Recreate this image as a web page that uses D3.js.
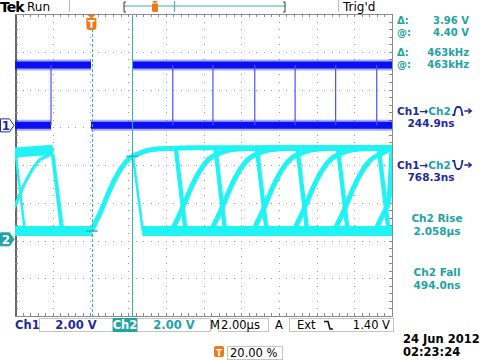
<!DOCTYPE html>
<html>
<head>
<meta charset="utf-8">
<script src="https://cdn.jsdelivr.net/npm/d3@7"></script>
<style>
  body { margin: 0; background: #fff; }
  svg { display: block; }
  text { font-family: "DejaVu Sans", sans-serif; }
</style>
</head>
<body>
<svg id="scope" width="480" height="360"></svg>
<script>
// timebase in µs (2 µs/div, trigger at 20 %), volts at 2 V/div
const timeDomain = [-4, 16];
const ch1Position = 1.05;   // div above centre
const ch2Position = -1.97;
const voltsPerDiv = 2;

// Ch1 levels and persistence spans
const ch1High = 3.2;
const ch1Low = 0;
const ch1HighSpans = [[-4, 0.03], [2.26, 16]];
const ch1LowSpans = [[-4, -2.09], [0.03, 16]];
const ch1Edges = [-2.09, 4.37, 6.5, 8.72, 10.86, 13.01, 15.19];

// Ch2 levels
const ch2High = 4.85;
const ch2Low = 0.44;
const ch2LowSpans = [[-4, 0.1], [2.75, 16]];
const ch2OldHigh = [[-4, 4.6], [-2.0, 4.75]];

// Ch2 rise shape at the first cursor
const riseT = [0, 0.2, 0.42, 0.7, 0.96, 1.4, 1.91, 2.5, 3.1, 4.2, 5.3];
const riseV = [0.44, 0.9, 1.35, 2.0, 2.62, 3.5, 4.21, 4.55, 4.74, 4.82, 4.85];
const riseStarts = [-4.6, 0.07, 4.33, 6.42, 8.65, 10.8, 12.95, 15.12];
const riseEnds = [-1.98, 16, 16, 16, 16, 16, 16, 16];

// Ch2 falling edges
const fallStarts = [-4.0, -2.06, -1.97, 2.26, 4.48, 4.58, 6.58, 6.68, 8.78, 8.88, 10.93, 11.03, 13.08, 13.18, 15.25, 15.35];
const fallTops = [4.85, 4.75, 4.5, 4.4, 4.85, 4.8, 4.85, 4.8, 4.85, 4.8, 4.85, 4.8, 4.85, 4.8, 4.85, 4.8];
const fallTime = 0.52;

// cursors
const cursorTimes = [0.07, 2.23];
const cursorVolts = [0.44, 4.40];

const readouts = [
  ["Δ:", "3.96 V"], ["@:", "4.40 V"], ["Δ:", "463kHz"], ["@:", "463kHz"]
];

const svg = d3.select("#scope");
const C1 = "#0a10f0", C1T = "#1f2a9c", C2 = "#1ff3f3", C2T = "#22a3a3", CUR = "#3ab0b0", ORG = "#f07818";
const FS = 10;

const gLeft = 15, gRight = 392, gTop = 14, gBottom = 316;
const x = d3.scaleLinear().domain(timeDomain).range([gLeft, gRight]);
const xDiv = d3.scaleLinear().domain([0, 10]).range([gLeft, gRight]);
const yDiv = d3.scaleLinear().domain([-4, 4]).range([gBottom, gTop]);
const y1 = v => yDiv(ch1Position + v / voltsPerDiv);
const y2 = v => yDiv(ch2Position + v / voltsPerDiv);

svg.append("clipPath").attr("id", "clip")
  .append("rect").attr("x", gLeft).attr("y", gTop).attr("width", gRight - gLeft).attr("height", gBottom - gTop);

// graticule dots
const grid = svg.append("g").attr("fill", "#9a9a9a");
const steps = d3.range(0, 50.5, 1).map(d => d / 5);
const vsteps = d3.range(0, 40.5, 1).map(d => d / 5);
for (let i = 1; i < 10; i++) {
  grid.selectAll(null).data(vsteps).enter().append("rect")
    .attr("x", Math.round(xDiv(i))).attr("y", d => Math.round(yDiv(d - 4)))
    .attr("width", 1).attr("height", 1);
}
for (let j = 1; j < 8; j++) {
  grid.selectAll(null).data(steps).enter().append("rect")
    .attr("x", d => Math.round(xDiv(d))).attr("y", Math.round(yDiv(j - 4)))
    .attr("width", 1).attr("height", 1);
}

// border with inward ticks
const tickV = d3.range(0, 50.5, 1).map(d => d / 5);
const tickH = d3.range(0, 40.5, 1).map(d => d / 5 - 4);
const axes = svg.append("g").attr("class", "frame");
axes.append("g").attr("transform", `translate(0,${gTop})`)
  .call(d3.axisTop(xDiv).tickValues(tickV).tickSize(-3).tickSizeOuter(0).tickFormat(""));
axes.append("g").attr("transform", `translate(0,${gBottom})`)
  .call(d3.axisBottom(xDiv).tickValues(tickV).tickSize(-3).tickSizeOuter(0).tickFormat(""));
const leftAxis = axes.append("g").attr("transform", `translate(${gLeft},0)`)
  .call(d3.axisLeft(yDiv).tickValues(tickH).tickSize(-3).tickSizeOuter(0).tickFormat(""));
axes.append("g").attr("transform", `translate(${gRight},0)`)
  .call(d3.axisRight(yDiv).tickValues(tickH).tickSize(-3).tickSizeOuter(0).tickFormat(""));
axes.selectAll("path, line").attr("stroke", "#8a8a8a").attr("stroke-width", 1).attr("shape-rendering", "crispEdges");
leftAxis.select(".domain").attr("stroke", "#666").attr("stroke-width", 2);

const plot = svg.append("g").attr("clip-path", "url(#clip)");
const line = d3.line().x(d => x(d[0])).y(d => d[1]);

// Ch1
const ch1 = plot.append("g");
const ch1Bands = ch1HighSpans.map(s => [[s[0], y1(ch1High)], [s[1], y1(ch1High)]])
  .concat(ch1LowSpans.map(s => [[s[0], y1(ch1Low)], [s[1], y1(ch1Low)]]));
ch1.selectAll(".halo").data(ch1Bands).enter().append("path")
  .attr("d", line).attr("stroke", C1).attr("stroke-opacity", 0.35).attr("stroke-width", 11).attr("fill", "none");
ch1.selectAll(".band").data(ch1Bands).enter().append("path")
  .attr("d", line).attr("stroke", C1).attr("stroke-width", 7).attr("fill", "none");
ch1.selectAll(".edge").data(ch1Edges).enter().append("line")
  .attr("x1", d => x(d)).attr("x2", d => x(d))
  .attr("y1", y1(ch1High)).attr("y2", y1(ch1Low))
  .attr("stroke", "#4a50ff").attr("stroke-width", 1.2);

// Ch2
const ch2 = plot.append("g");
const curve = d3.line().x(d => x(d[0])).y(d => y2(d[1])).curve(d3.curveMonotoneX);
const rises = riseStarts.map((s, i) => {
  const pts = riseT.map((t, k) => [s + t, riseV[k]]).filter(p => p[0] <= riseEnds[i]);
  if (pts[pts.length - 1][0] < riseEnds[i]) pts.push([riseEnds[i], ch2High]);
  return pts;
});
const falls = fallStarts.map((s, i) => [[s, fallTops[i]], [s + fallTime, ch2Low]]);
const lows = ch2LowSpans.map(s => [[s[0], ch2Low], [s[1], ch2Low]]);

ch2.selectAll(".low").data(lows.concat([ch2OldHigh])).enter().append("path")
  .attr("d", curve).attr("stroke", C2).attr("stroke-width", 10).attr("fill", "none");
ch2.selectAll(".rise").data(rises).enter().append("path")
  .attr("d", curve).attr("stroke", C2).attr("stroke-width", (d, i) => i === 0 ? 3 : 5).attr("fill", "none");
ch2.selectAll(".fall").data(falls).enter().append("path")
  .attr("d", curve).attr("stroke", C2).attr("stroke-width", 2.5).attr("fill", "none");

// cursors
const cur = plot.append("g");
cur.selectAll(".cur").data(cursorTimes).enter().append("line")
  .attr("x1", d => Math.round(x(d)) + 0.5).attr("x2", d => Math.round(x(d)) + 0.5)
  .attr("y1", gTop).attr("y2", gBottom)
  .attr("stroke", CUR).attr("stroke-width", 1)
  .attr("stroke-dasharray", (d, i) => i === 0 ? "3,2" : null);
cur.selectAll(".mark").data(cursorTimes).enter().append("line")
  .attr("x1", d => x(d) - 6).attr("x2", d => x(d) + 6)
  .attr("y1", (d, i) => y2(cursorVolts[i])).attr("y2", (d, i) => y2(cursorVolts[i]))
  .attr("stroke", CUR).attr("stroke-width", 1.5);

// trigger position marker
const tx = x(0) + 1;
svg.append("path").attr("fill", ORG)
  .attr("d", `M${tx - 4},15 L${tx + 4},15 L${tx},18.5 Z M${tx - 5},18 h10 v9 q0,3 -3,3 h-4 q-3,0 -3,-3 Z`);
svg.append("text").attr("x", tx).attr("y", 27.5).attr("text-anchor", "middle")
  .attr("font-size", 10).attr("font-weight", "bold").attr("fill", "#fff").text("T");

// channel ground markers
function marker(yc, label, fill, stroke, col) {
  svg.append("path").attr("d", `M0.5,${yc - 6.5} h9 l4.5,6.5 l-4.5,6.5 h-9 Z`)
    .attr("fill", fill).attr("stroke", stroke).attr("stroke-width", 1);
  svg.append("text").attr("x", 6).attr("y", yc + 4.5).attr("text-anchor", "middle")
    .attr("font-size", 12).attr("font-weight", "bold").attr("fill", col).text(label);
}
marker(y1(0), "1", "#fff", C1T, C1T);
marker(y2(0), "2", C2T, C2T, "#fff");

// top bar
svg.append("text").attr("x", 0).attr("y", 11.5).attr("font-size", 14).attr("font-weight", "bold")
  .attr("letter-spacing", -1).text("Tek");
svg.append("text").attr("x", 27).attr("y", 11).attr("font-size", 12).text("Run");
svg.append("text").attr("x", 343).attr("y", 11).attr("font-size", 12).text("Trig'd");
svg.append("line").attr("x1", 69.5).attr("x2", 69.5).attr("y1", 0).attr("y2", 12).attr("stroke", "#bbb");
svg.append("line").attr("x1", 338.5).attr("x2", 338.5).attr("y1", 0).attr("y2", 12).attr("stroke", "#bbb");
svg.append("line").attr("x1", 124).attr("x2", 285).attr("y1", 6).attr("y2", 6).attr("stroke", CUR).attr("stroke-width", 1);
svg.append("path").attr("d", "M126,2 h-2 v10 h2 M283,2 h2 v10 h-2").attr("fill", "none").attr("stroke", "#333");
svg.append("line").attr("x1", 174.5).attr("x2", 174.5).attr("y1", 1).attr("y2", 12).attr("stroke", CUR);
svg.append("path").attr("fill", ORG).attr("d", "M152,1 h6 l-3,2.5 Z M152,3.5 h6 v7 q0,1.5 -1.5,1.5 h-3 q-1.5,0 -1.5,-1.5 Z");

// right readouts
const rp = svg.append("g").attr("font-size", FS).attr("font-weight", "bold").attr("fill", C2T);
const rowY = [24, 36, 56, 68];
readouts.forEach((r, i) => {
  rp.append("text").attr("x", 397).attr("y", rowY[i]).text(r[0]);
  rp.append("text").attr("x", 469).attr("y", rowY[i]).attr("text-anchor", "end").text(r[1]);
});

function delayRow(yb, val, rising) {
  const t = svg.append("text").attr("x", 397).attr("y", yb).attr("font-size", FS + 0.5).attr("font-weight", "bold");
  t.append("tspan").attr("fill", C1T).text("Ch1→");
  t.append("tspan").attr("fill", C2T).text("Ch2");
  const w = t.node().getComputedTextLength();
  const gx = 397 + w + 1.5;
  const d = rising
    ? `M${gx},${yb} h2 q1,-8 3,-8 h2 q2,0 3,8 h1`
    : `M${gx},${yb - 8} h2 q1,8 3,8 h2 q2,0 3,-8 h1`;
  svg.append("path").attr("d", d).attr("fill", "none").attr("stroke", C1T).attr("stroke-width", 1.8);
  svg.append("path").attr("d", `M${gx + 12},${yb - 4} h7 M${gx + 16},${yb - 6.5} l3,2.5 l-3,2.5`)
    .attr("fill", "none").attr("stroke", C1T).attr("stroke-width", 1.4);
  svg.append("text").attr("x", 431).attr("y", yb + 12).attr("text-anchor", "middle")
    .attr("font-size", FS + 0.5).attr("font-weight", "bold").attr("fill", C1T).text(val);
}
delayRow(115, "244.9ns", true);
delayRow(169, "768.3ns", false);

const meas = [["Ch2 Rise", "2.058µs", 222], ["Ch2 Fall", "494.0ns", 276]];
meas.forEach(m => {
  rp.append("text").attr("x", 437).attr("y", m[2]).attr("text-anchor", "middle").attr("font-size", FS + 0.5).text(m[0]);
  rp.append("text").attr("x", 437).attr("y", m[2] + 13).attr("text-anchor", "middle").attr("font-size", FS + 0.5).text(m[1]);
});

// bottom bar
const bb = svg.append("g").attr("font-size", 11.5).attr("font-weight", "bold");
const boxes = [[39, 112], [137, 210], [218, 268], [289, 393], [227, 282]];
boxes.forEach((b, i) => {
  const yt = i === 4 ? 346 : 318;
  bb.append("rect").attr("x", b[0] + 0.5).attr("y", yt + 0.5).attr("width", b[1] - b[0]).attr("height", 13)
    .attr("fill", "none").attr("stroke", "#c4c4c4");
});
bb.append("rect").attr("x", 113).attr("y", 318).attr("width", 24).attr("height", 14).attr("fill", C2T);
bb.append("text").attr("x", 15).attr("y", 329).attr("fill", C1T).text("Ch1");
bb.append("text").attr("x", 76).attr("y", 329).attr("text-anchor", "middle").attr("fill", C1T).text("2.00 V");
bb.append("text").attr("x", 125).attr("y", 329).attr("text-anchor", "middle").attr("fill", "#fff").text("Ch2");
bb.append("text").attr("x", 174).attr("y", 329).attr("text-anchor", "middle").attr("fill", C2T).text("2.00 V");
bb.append("text").attr("x", 210).attr("y", 329).attr("font-weight", "normal").text("M");
bb.append("text").attr("x", 221).attr("y", 329).attr("font-weight", "normal").text("2.00µs");
bb.append("text").attr("x", 275).attr("y", 329).attr("font-weight", "normal").text("A");
bb.append("text").attr("x", 297).attr("y", 329).attr("font-weight", "normal").text("Ext");
bb.append("path").attr("d", "M324,321.5 h4 l2,7.5 h3").attr("fill", "none").attr("stroke", "#111").attr("stroke-width", 1.6);
bb.append("text").attr("x", 390).attr("y", 329).attr("text-anchor", "end").attr("font-weight", "normal").text("1.40 V");
bb.append("rect").attr("x", 214).attr("y", 346).attr("width", 10).attr("height", 11).attr("rx", 2).attr("fill", ORG);
bb.append("text").attr("x", 219).attr("y", 355.5).attr("text-anchor", "middle").attr("font-size", 9).attr("fill", "#fff").text("T");
bb.append("text").attr("x", 230).attr("y", 357).attr("font-weight", "normal").text("20.00 %");
bb.append("text").attr("x", 403).attr("y", 343).text("24 Jun  2012");
bb.append("text").attr("x", 403).attr("y", 356).text("02:23:24");
</script>
</body>
</html>
